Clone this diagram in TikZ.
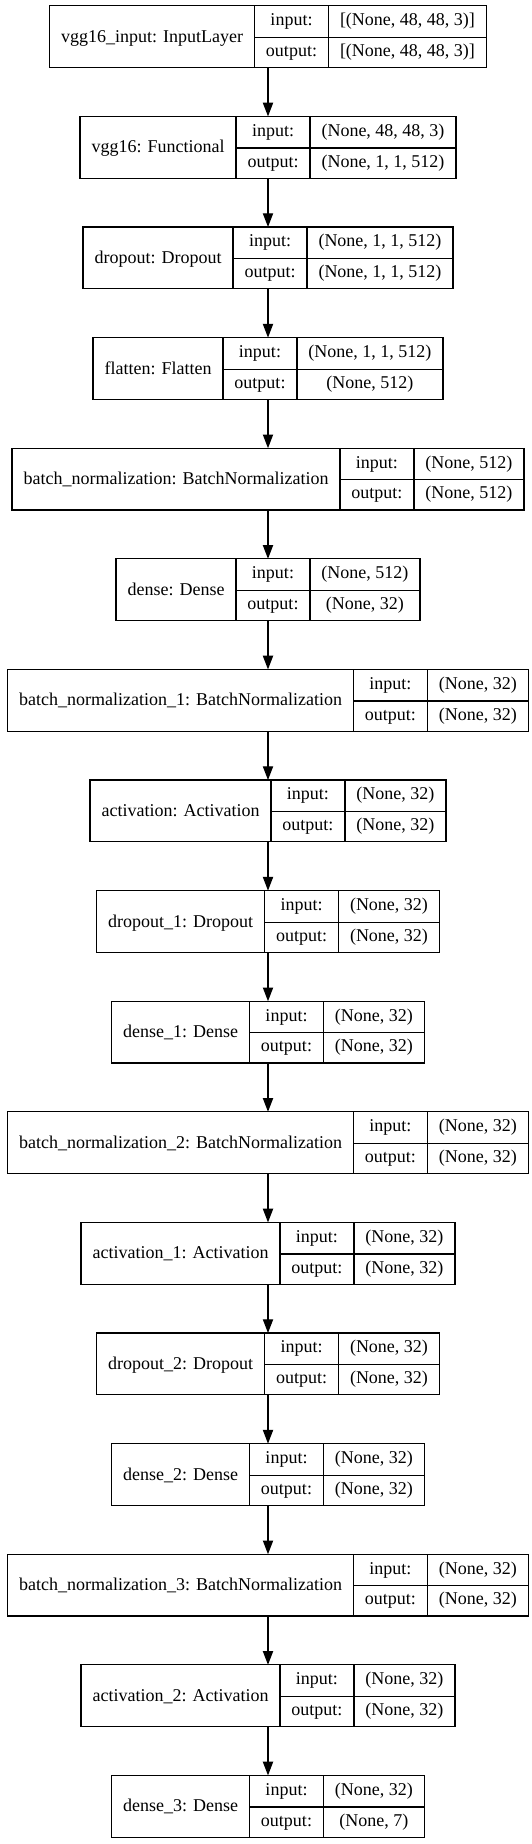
\documentclass[tikz,border=0pt]{standalone}
\usepackage{fontspec}
\setmainfont{Liberation Serif}
\usetikzlibrary{positioning, arrows.meta}

\setlength{\tabcolsep}{11.5pt}
\setlength{\arrayrulewidth}{1.2pt}
\renewcommand{\arraystretch}{0.1}
\newcommand{\rowstrut}{\rule[-11.1pt]{0pt}{30.9pt}}
\newcommand{\layerrec}[3]{%
  \begin{tabular}{c|c|c}
    & input:\rowstrut & #2 \\ \cline{2-3}
    \raisebox{14.2pt}[0pt][0pt]{#1} & output:\rowstrut & #3
  \end{tabular}}

\tikzset{
  layer/.style={draw, line width=1.2pt, inner sep=0pt, outer sep=0pt},
  flow/.style={line width=1.2pt, -{Triangle[length=13.7pt, width=10.2pt]}}
}

\begin{document}
\begin{tikzpicture}[font=\fontsize{18}{22}\selectfont]
\useasboundingbox (0pt, 0pt) rectangle (532pt, -1844pt);

\node [layer, anchor=north] (vgginput) at (268pt, -5.8pt) {\layerrec{vgg16\_input: InputLayer}{[(None, 48, 48, 3)]}{[(None, 48, 48, 3)]}};
\node [layer, below=48.8pt of vgginput] (vgg) {\layerrec{vgg16: Functional}{(None, 48, 48, 3)}{(None, 1, 1, 512)}};
\node [layer, below=48.8pt of vgg] (drop) {\layerrec{dropout: Dropout}{(None, 1, 1, 512)}{(None, 1, 1, 512)}};
\node [layer, below=48.8pt of drop] (flat) {\layerrec{flatten: Flatten}{(None, 1, 1, 512)}{(None, 512)}};
\node [layer, below=48.8pt of flat] (bn) {\layerrec{batch\_normalization: BatchNormalization}{(None, 512)}{(None, 512)}};
\node [layer, below=48.8pt of bn] (dense) {\layerrec{dense: Dense}{(None, 512)}{(None, 32)}};
\node [layer, below=48.8pt of dense] (bnone) {\layerrec{batch\_normalization\_1: BatchNormalization}{(None, 32)}{(None, 32)}};
\node [layer, below=48.8pt of bnone] (act) {\layerrec{activation: Activation}{(None, 32)}{(None, 32)}};
\node [layer, below=48.8pt of act] (dropone) {\layerrec{dropout\_1: Dropout}{(None, 32)}{(None, 32)}};
\node [layer, below=48.8pt of dropone] (denseone) {\layerrec{dense\_1: Dense}{(None, 32)}{(None, 32)}};
\node [layer, below=48.8pt of denseone] (bntwo) {\layerrec{batch\_normalization\_2: BatchNormalization}{(None, 32)}{(None, 32)}};
\node [layer, below=48.8pt of bntwo] (actone) {\layerrec{activation\_1: Activation}{(None, 32)}{(None, 32)}};
\node [layer, below=48.8pt of actone] (droptwo) {\layerrec{dropout\_2: Dropout}{(None, 32)}{(None, 32)}};
\node [layer, below=48.8pt of droptwo] (densetwo) {\layerrec{dense\_2: Dense}{(None, 32)}{(None, 32)}};
\node [layer, below=48.8pt of densetwo] (bnthree) {\layerrec{batch\_normalization\_3: BatchNormalization}{(None, 32)}{(None, 32)}};
\node [layer, below=48.8pt of bnthree] (acttwo) {\layerrec{activation\_2: Activation}{(None, 32)}{(None, 32)}};
\node [layer, below=48.8pt of acttwo] (densethree) {\layerrec{dense\_3: Dense}{(None, 32)}{(None, 7)}};

\draw [flow] (vgginput.south) -- (vgg.north);
\draw [flow] (vgg.south) -- (drop.north);
\draw [flow] (drop.south) -- (flat.north);
\draw [flow] (flat.south) -- (bn.north);
\draw [flow] (bn.south) -- (dense.north);
\draw [flow] (dense.south) -- (bnone.north);
\draw [flow] (bnone.south) -- (act.north);
\draw [flow] (act.south) -- (dropone.north);
\draw [flow] (dropone.south) -- (denseone.north);
\draw [flow] (denseone.south) -- (bntwo.north);
\draw [flow] (bntwo.south) -- (actone.north);
\draw [flow] (actone.south) -- (droptwo.north);
\draw [flow] (droptwo.south) -- (densetwo.north);
\draw [flow] (densetwo.south) -- (bnthree.north);
\draw [flow] (bnthree.south) -- (acttwo.north);
\draw [flow] (acttwo.south) -- (densethree.north);
\end{tikzpicture}
\end{document}
